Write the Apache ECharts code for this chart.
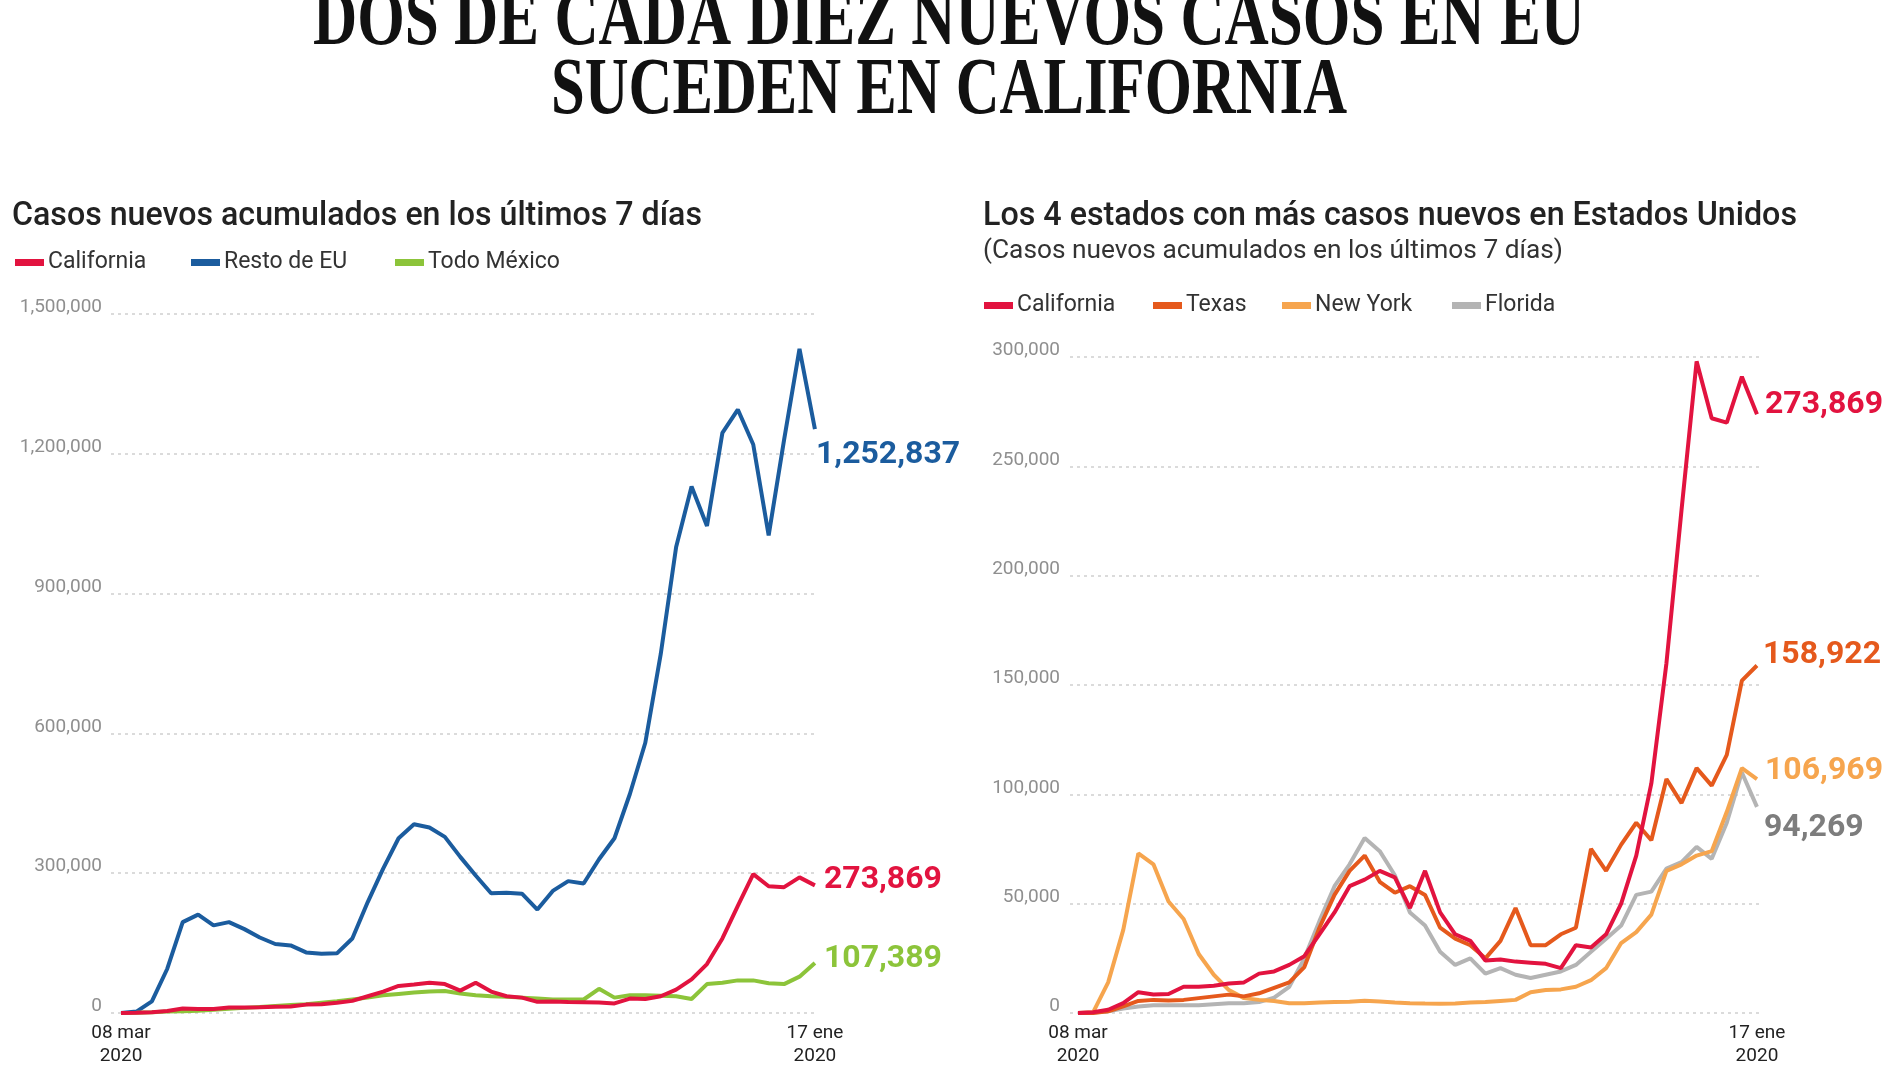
<!DOCTYPE html>
<html><head><meta charset="utf-8">
<script src="https://cdn.jsdelivr.net/npm/echarts@6/dist/echarts.min.js"></script>
<style>html,body{margin:0;padding:0;background:#fff}#c{width:1900px;height:1068px}</style>
</head><body><div id="c"></div>
<script>
// ---- data (weekly 7-day sums, 08 mar 2020 -> 17 ene) ----
const xTickIndex = [0, 45];
const xTickLabels = ['08 mar\n2020', '17 ene\n2020'];

const restoEU = [0, 3000, 25000, 95000, 195000, 211000, 188000, 195000, 180000, 162000, 148000, 145000, 130000, 127000, 128000, 160000, 238000, 310000, 375000, 405000, 398000, 378000, 335000, 295000, 257000, 258000, 256000, 222000, 262000, 283000, 278000, 330000, 375000, 470000, 580000, 770000, 1000000, 1130000, 1045000, 1245000, 1295000, 1220000, 1025000, 1230000, 1425000, 1252837];
const california = [0, 300, 1500, 4500, 9500, 8500, 8700, 12000, 12000, 12500, 13500, 14000, 18000, 19000, 22000, 26000, 36000, 46000, 58000, 61000, 65000, 62000, 48000, 65000, 46000, 36000, 33000, 24000, 24500, 23500, 23000, 22500, 20500, 31000, 30000, 36000, 50000, 72000, 105000, 160000, 230000, 298000, 272000, 270000, 291000, 273869];
const mexico = [0, 500, 1500, 3000, 4000, 5000, 7000, 9000, 11000, 13000, 15000, 17000, 19000, 22000, 25000, 29000, 33000, 38000, 41000, 44000, 46000, 47000, 42000, 38000, 36000, 35000, 33000, 31000, 29000, 29000, 29000, 52000, 33000, 38000, 38000, 37000, 36000, 30000, 62000, 65000, 70000, 70000, 64000, 62000, 78000, 107389];
const texas = [0, 0, 800, 3000, 5500, 6000, 5700, 6000, 6800, 7600, 8400, 7600, 9000, 11500, 14000, 21000, 39000, 54000, 65000, 72000, 60000, 55000, 58000, 54000, 39000, 34000, 31000, 25000, 33000, 48000, 31000, 31000, 36000, 39000, 75000, 65000, 77000, 87000, 79000, 107000, 96000, 112000, 104000, 118000, 152000, 158922];
const newYork = [0, 300, 14000, 38000, 73000, 68000, 51000, 43000, 27000, 17500, 10500, 6800, 6000, 5500, 4500, 4500, 4800, 5000, 5200, 5600, 5300, 4800, 4500, 4300, 4200, 4400, 4800, 5000, 5500, 6000, 9500, 10500, 10800, 12000, 15000, 20500, 32000, 37000, 45000, 65000, 68000, 72000, 74000, 92000, 112000, 106969];
const florida = [0, 200, 800, 2000, 3000, 3500, 3500, 3500, 3500, 4000, 4500, 4500, 5000, 7000, 12000, 25000, 42000, 58000, 68000, 80000, 74000, 63000, 46000, 40000, 28000, 22000, 25000, 18000, 20500, 17500, 16000, 17500, 19000, 22000, 28000, 34000, 40000, 54000, 55500, 66000, 69000, 76000, 70500, 87000, 110000, 94269];

const leftYMax = 1500000, leftYStep = 300000;
const rightYMax = 300000, rightYStep = 50000;

const mainTitle1 = 'DOS DE CADA DIEZ NUEVOS CASOS EN EU';
const mainTitle2 = 'SUCEDEN EN CALIFORNIA';
const leftTitle = 'Casos nuevos acumulados en los últimos 7 días';
const rightTitle = 'Los 4 estados con más casos nuevos en Estados Unidos';
const rightSub = '(Casos nuevos acumulados en los últimos 7 días)';

// ---- helpers ----
const mctx = document.createElement('canvas').getContext('2d');
function fitScale(text, font, target) { mctx.font = font; return target / mctx.measureText(text).width; }
const fmt = v => Math.round(v).toLocaleString('en-US');
const pairs = arr => arr.map((v, i) => [i, v]);

const C = {ca: '#e2133f', eu: '#1b5c9e', mx: '#8cc43a', tx: '#e5591c', ny: '#f6a54e', fl: '#b4b4b4', flLabel: '#7d7d7d'};

function makeX(gi, min, max) {
  return {type: 'value', gridIndex: gi, min, max,
    axisLine: {show: false}, axisTick: {show: false}, splitLine: {show: false},
    axisLabel: {customValues: xTickIndex, formatter: v => xTickLabels[xTickIndex.indexOf(Math.round(v))] || '',
      color: '#222', fontFamily: 'Roboto', fontSize: 19, lineHeight: 23, margin: 9}};
}
function makeY(gi, max, step, margin) {
  return {type: 'value', gridIndex: gi, min: 0, max, interval: step,
    axisLine: {show: false}, axisTick: {show: false},
    splitLine: {show: true, lineStyle: {color: '#cfcfcf', type: [3, 4], width: 1.5}},
    axisLabel: {formatter: v => fmt(v), color: '#8f8f8f', fontFamily: 'Roboto', fontSize: 19, margin,
      verticalAlign: 'bottom', lineHeight: 13}};
}
function line(name, data, color, gi, labelColor, offset, z) {
  return {type: 'line', name, xAxisIndex: gi, yAxisIndex: gi, data: pairs(data),
    showSymbol: false, symbol: 'none', z,
    lineStyle: {color, width: 4}, itemStyle: {color},
    emphasis: {disabled: true},
    endLabel: {show: true, formatter: p => fmt(p.value[1]), color: labelColor, fontFamily: 'Roboto',
      fontWeight: 'bold', fontSize: 32, offset, distance: 5}};
}
const legCommon = {icon: 'rect', itemWidth: 29, itemHeight: 7, padding: 0, itemGap: 0, selectedMode: false,
  textStyle: {fontFamily: 'Roboto', fontSize: 23, color: '#333', padding: [0, 0, 0, -1]}};
function leg(name, left, top) { return Object.assign({data: [name], left, top}, legCommon); }

const tFont = 'bold 80px "Liberation Serif"';
const sFont = '500 33px Roboto';
const ssFont = '25px Roboto';

const chart = echarts.init(document.getElementById('c'), null, {renderer: 'canvas'});
chart.setOption({
  backgroundColor: '#fff',
  animation: false,
  graphic: {elements: [
    {type: 'text', x: 949, y: 23, scaleX: fitScale(mainTitle1, tFont, 1272),
      style: {text: mainTitle1, font: tFont, fill: '#111', align: 'center', verticalAlign: 'middle', textAlign: 'center', textVerticalAlign: 'middle'}},
    {type: 'text', x: 949, y: 92, scaleX: fitScale(mainTitle2, tFont, 796),
      style: {text: mainTitle2, font: tFont, fill: '#111', align: 'center', verticalAlign: 'middle', textAlign: 'center', textVerticalAlign: 'middle'}},
    {type: 'text', x: 12, y: 217, scaleX: fitScale(leftTitle, sFont, 690),
      style: {text: leftTitle, font: sFont, fill: '#222', align: 'left', verticalAlign: 'middle', textAlign: 'left', textVerticalAlign: 'middle'}},
    {type: 'text', x: 983, y: 217, scaleX: fitScale(rightTitle, sFont, 814),
      style: {text: rightTitle, font: sFont, fill: '#222', align: 'left', verticalAlign: 'middle', textAlign: 'left', textVerticalAlign: 'middle'}},
    {type: 'text', x: 983, y: 252, scaleX: fitScale(rightSub, ssFont, 580),
      style: {text: rightSub, font: ssFont, fill: '#333', align: 'left', verticalAlign: 'middle', textAlign: 'left', textVerticalAlign: 'middle'}}
  ]},
  legend: [
    leg('California', 15, 251), leg('Resto de EU', 191, 251), leg('Todo México', 395, 251),
    leg('California', 984, 294), leg('Texas', 1153, 294), leg('New York', 1282, 294), leg('Florida', 1452, 294)
  ],
  grid: [
    {left: 111, right: 1082, top: 314, bottom: 55},
    {left: 1070, right: 137, top: 357, bottom: 54}
  ],
  xAxis: [makeX(0, -0.65, 45.2), makeX(1, -0.53, 45.4)],
  yAxis: [makeY(0, leftYMax, leftYStep, 9), makeY(1, rightYMax, rightYStep, 10)],
  series: [
    line('Resto de EU', restoEU, C.eu, 0, C.eu, [-4, 26], 2),
    line('Todo México', mexico, C.mx, 0, C.mx, [4, -4], 3),
    line('California', california, C.ca, 0, C.ca, [4, -5], 4),
    line('Florida', florida, C.fl, 1, C.flLabel, [2, 21], 2),
    line('New York', newYork, C.ny, 1, C.ny, [3, -8], 3),
    line('Texas', texas, C.tx, 1, C.tx, [1, -10], 4),
    line('California', california, C.ca, 1, C.ca, [3, -9], 5)
  ]
});
</script></body></html>
